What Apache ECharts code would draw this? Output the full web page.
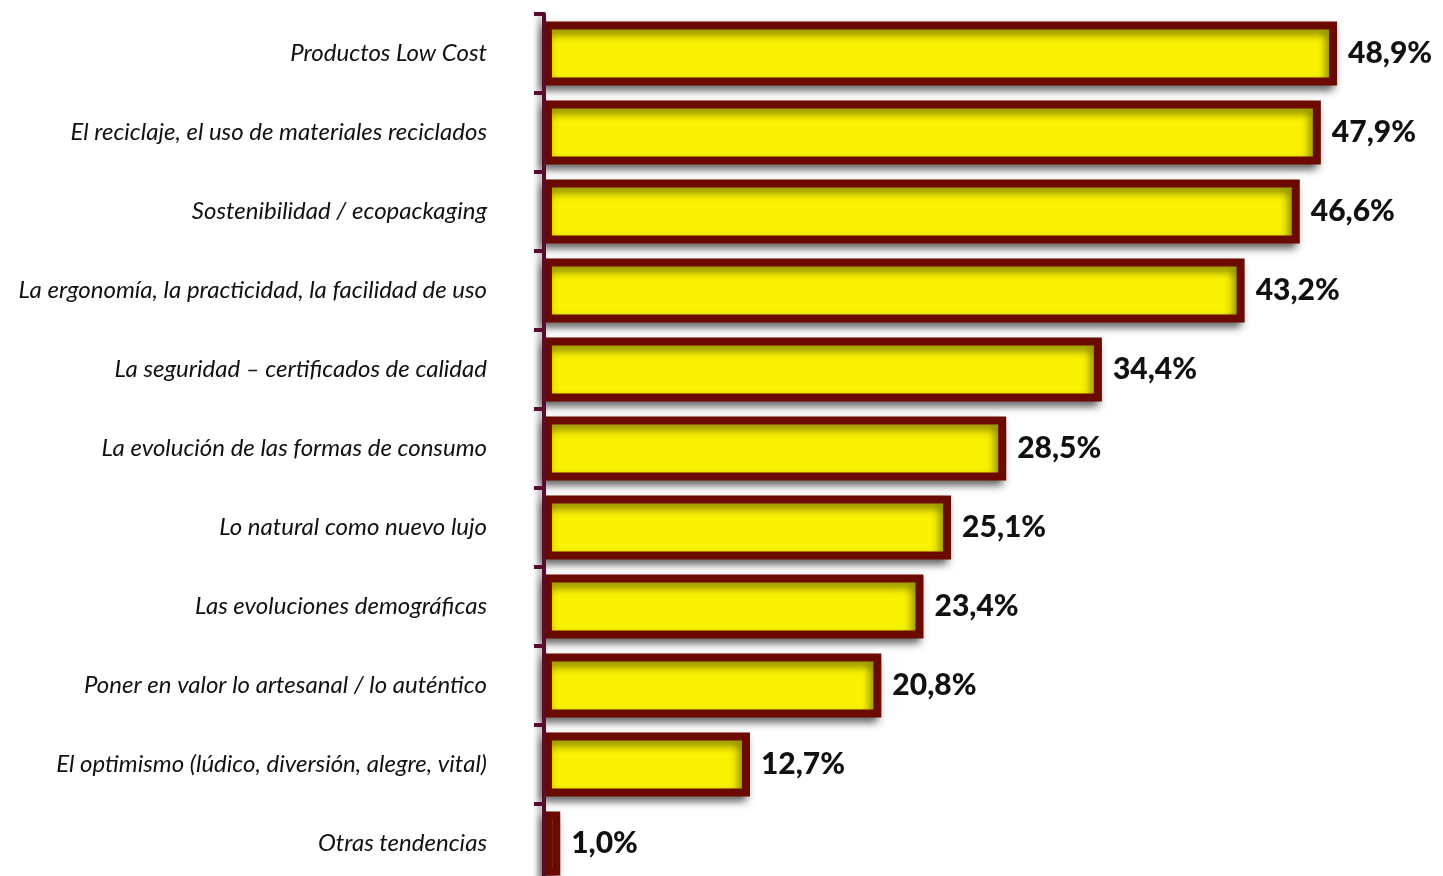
<!DOCTYPE html>
<html><head><meta charset="utf-8">
<script src="https://cdn.jsdelivr.net/npm/echarts@6/dist/echarts.min.js"></script>
<style>html,body{margin:0;padding:0;background:#fff}#c{width:1443px;height:876px}</style>
</head><body><div id="c"></div>
<script>
var categories = [
  "Productos Low Cost",
  "El reciclaje, el uso de materiales reciclados",
  "Sostenibilidad / ecopackaging",
  "La ergonomía, la practicidad, la facilidad de uso",
  "La seguridad – certificados de calidad",
  "La evolución de las formas de consumo",
  "Lo natural como nuevo lujo",
  "Las evoluciones demográficas",
  "Poner en valor lo artesanal / lo auténtico",
  "El optimismo (lúdico, diversión, alegre, vital)",
  "Otras tendencias"
];
var values = [48.9, 47.9, 46.6, 43.2, 34.4, 28.5, 25.1, 23.4, 20.8, 12.7, 1.0];

var chart = echarts.init(document.getElementById('c'));
chart.setOption({
  animation: false,
  grid: { left: 544, width: 892, top: 14, height: 869, containLabel: false, outerBoundsMode: 'none' },
  xAxis: { type: 'value', min: 0, max: 55, show: false },
  yAxis: {
    type: 'category', data: categories, inverse: true, offset: 1, z: 5,
    axisLine: { show: true, lineStyle: { color: '#5a0c30', width: 4, shadowBlur: 6, shadowColor: 'rgba(0,0,0,0.45)', shadowOffsetX: -3, shadowOffsetY: 3 } },
    axisTick: { show: true, length: 10, lineStyle: { color: '#5a0c30', width: 4 } },
    axisLabel: { margin: 56, color: '#111', fontFamily: 'Lato', fontStyle: 'italic', fontSize: 24 },
    splitLine: { show: false }
  },
  series: [{
    type: 'bar', data: values, barWidth: 64,
    itemStyle: { color: '#f9f200', borderColor: '#6b0a00', borderWidth: 8,
      shadowBlur: 8, shadowColor: 'rgba(0,0,0,0.5)', shadowOffsetX: -3, shadowOffsetY: 5 },
    label: { show: true, position: 'right', distance: 11, color: '#111', fontFamily: 'Lato', fontWeight: 900, fontSize: 30,
      formatter: function(p){ return p.value.toFixed(1).replace('.', ',') + '%'; } }
  }]
});
</script></body></html>
